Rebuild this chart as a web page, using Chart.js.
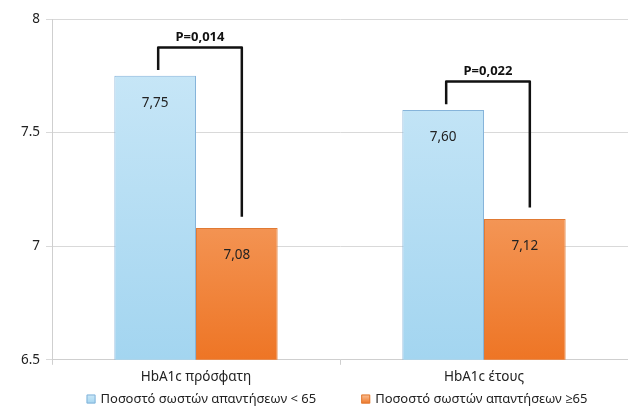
<!DOCTYPE html>
<html>
<head>
<meta charset="utf-8">
<script src="https://cdn.jsdelivr.net/npm/chart.js@4"></script>
<style>
  body { margin: 0; background: #fff; }
  #wrap { width: 628px; height: 408px; }
</style>
</head>
<body>
<div id="wrap"><canvas id="chart"></canvas></div>
<script>
// Chart data
const categories = ["HbA1c πρόσφατη", "HbA1c έτους"];
const seriesNames = ["Ποσοστό σωστών απαντήσεων < 65", "Ποσοστό σωστών απαντήσεων ≥65"];
const under65 = [7.75, 7.60];
const over65 = [7.08, 7.12];
const valueLabels = [["7,75", "7,60"], ["7,08", "7,12"]];
const pValues = ["P=0,014", "P=0,022"];
const yTicks = [6.5, 7, 7.5, 8];

const FONT = "'Noto Sans', 'Open Sans', sans-serif";
const blueStops = ["#cde9f8", "#a3d5f0"];
const orangeStops = ["#fbc39a", "#ee7525"];

// vertical gradient for the bars
function barGradient(ctx, top, bottom) {
  const chart = ctx.chart;
  const area = chart.chartArea;
  if (!area) return bottom;
  const g = chart.ctx.createLinearGradient(0, area.top, 0, area.bottom);
  g.addColorStop(0, top);
  g.addColorStop(1, bottom);
  return g;
}

// draws value labels inside bars, the p-value brackets and the legend
const annotations = {
  id: "annotations",
  afterDatasetsDraw(chart) {
    const ctx = chart.ctx;
    const y = chart.scales.y;
    ctx.save();
    ctx.textAlign = "center";
    ctx.textBaseline = "middle";
    ctx.fillStyle = "#222";
    ctx.font = "13.5px " + FONT;
    chart.data.datasets.forEach((ds, di) => {
      chart.getDatasetMeta(di).data.forEach((bar, i) => {
        ctx.fillText(valueLabels[di][i], bar.x, bar.y + 27);
      });
    });

    // brackets
    const m0 = chart.getDatasetMeta(0).data;
    const m1 = chart.getDatasetMeta(1).data;
    categories.forEach((c, i) => {
      const a = under65[i], b = over65[i];
      const topY = y.getPixelForValue(Math.max(a, b) + 0.125);
      const leftEnd = y.getPixelForValue(a + 0.025);
      const rightEnd = y.getPixelForValue(b + 0.05);
      const x1 = m0[i].x + 3, x2 = m1[i].x + 5;
      ctx.strokeStyle = "#111";
      ctx.lineWidth = 2.5;
      ctx.lineJoin = "round";
      ctx.beginPath();
      ctx.moveTo(x1, leftEnd);
      ctx.lineTo(x1, topY);
      ctx.lineTo(x2, topY);
      ctx.lineTo(x2, rightEnd);
      ctx.stroke();
      ctx.font = "bold 13px " + FONT;
      ctx.fillStyle = "#111";
      ctx.fillText(pValues[i], (x1 + x2) / 2, topY - 10);
    });

    // legend, centred under the plot area
    const area = chart.chartArea;
    ctx.font = "13px " + FONT;
    ctx.textAlign = "left";
    const box = 9, gap = 5, between = 45;
    const widths = seriesNames.map(s => ctx.measureText(s).width);
    const total = widths[0] + widths[1] + 2 * (box + gap) + between;
    let lx = (area.left + area.right) / 2 - total / 2 - 3;
    const ly = chart.height - 9;
    const stops = [blueStops, orangeStops];
    const borders = ["#86b4da", "#e07a34"];
    seriesNames.forEach((s, i) => {
      const g = ctx.createLinearGradient(0, ly - box / 2, 0, ly + box / 2);
      g.addColorStop(0, stops[i][0]);
      g.addColorStop(1, stops[i][1]);
      ctx.fillStyle = g;
      ctx.fillRect(lx, ly - box / 2, box, box);
      ctx.strokeStyle = borders[i];
      ctx.lineWidth = 1;
      ctx.strokeRect(lx + 0.5, ly - box / 2 + 0.5, box - 1, box - 1);
      ctx.fillStyle = "#222";
      ctx.fillText(s, lx + box + gap, ly);
      lx += box + gap + widths[i] + between;
    });
    ctx.restore();
  }
};

new Chart(document.getElementById("chart"), {
  type: "bar",
  data: {
    labels: categories,
    datasets: [
      {
        label: seriesNames[0],
        data: under65,
        backgroundColor: ctx => barGradient(ctx, blueStops[0], blueStops[1]),
        borderColor: "#86b4da",
        borderWidth: 1,
        categoryPercentage: 0.567,
        barPercentage: 1
      },
      {
        label: seriesNames[1],
        data: over65,
        backgroundColor: ctx => barGradient(ctx, orangeStops[0], orangeStops[1]),
        borderColor: "#e07a34",
        borderWidth: 1,
        categoryPercentage: 0.567,
        barPercentage: 1
      }
    ]
  },
  options: {
    responsive: true,
    maintainAspectRatio: false,
    animation: false,
    layout: { padding: { top: 19, right: 0, left: 0, bottom: 19 } },
    scales: {
      x: {
        grid: { drawOnChartArea: false, color: "#cfcfcf", tickLength: 5 },
        border: { color: "#cfcfcf" },
        ticks: { color: "#222", font: { family: FONT, size: 13.5 }, padding: 4 }
      },
      y: {
        min: 6.5,
        max: 8,
        afterBuildTicks: axis => { axis.ticks = yTicks.map(v => ({ value: v })); },
        afterFit: axis => { axis.width = 52; },
        grid: { color: "#d9d9d9", tickLength: 6 },
        border: { color: "#cfcfcf" },
        ticks: {
          color: "#222",
          font: { family: FONT, size: 13.5 },
          padding: 6,
          callback: v => String(v)
        }
      }
    },
    plugins: {
      legend: { display: false },
      tooltip: { enabled: false }
    }
  },
  plugins: [annotations]
});
</script>
</body>
</html>
